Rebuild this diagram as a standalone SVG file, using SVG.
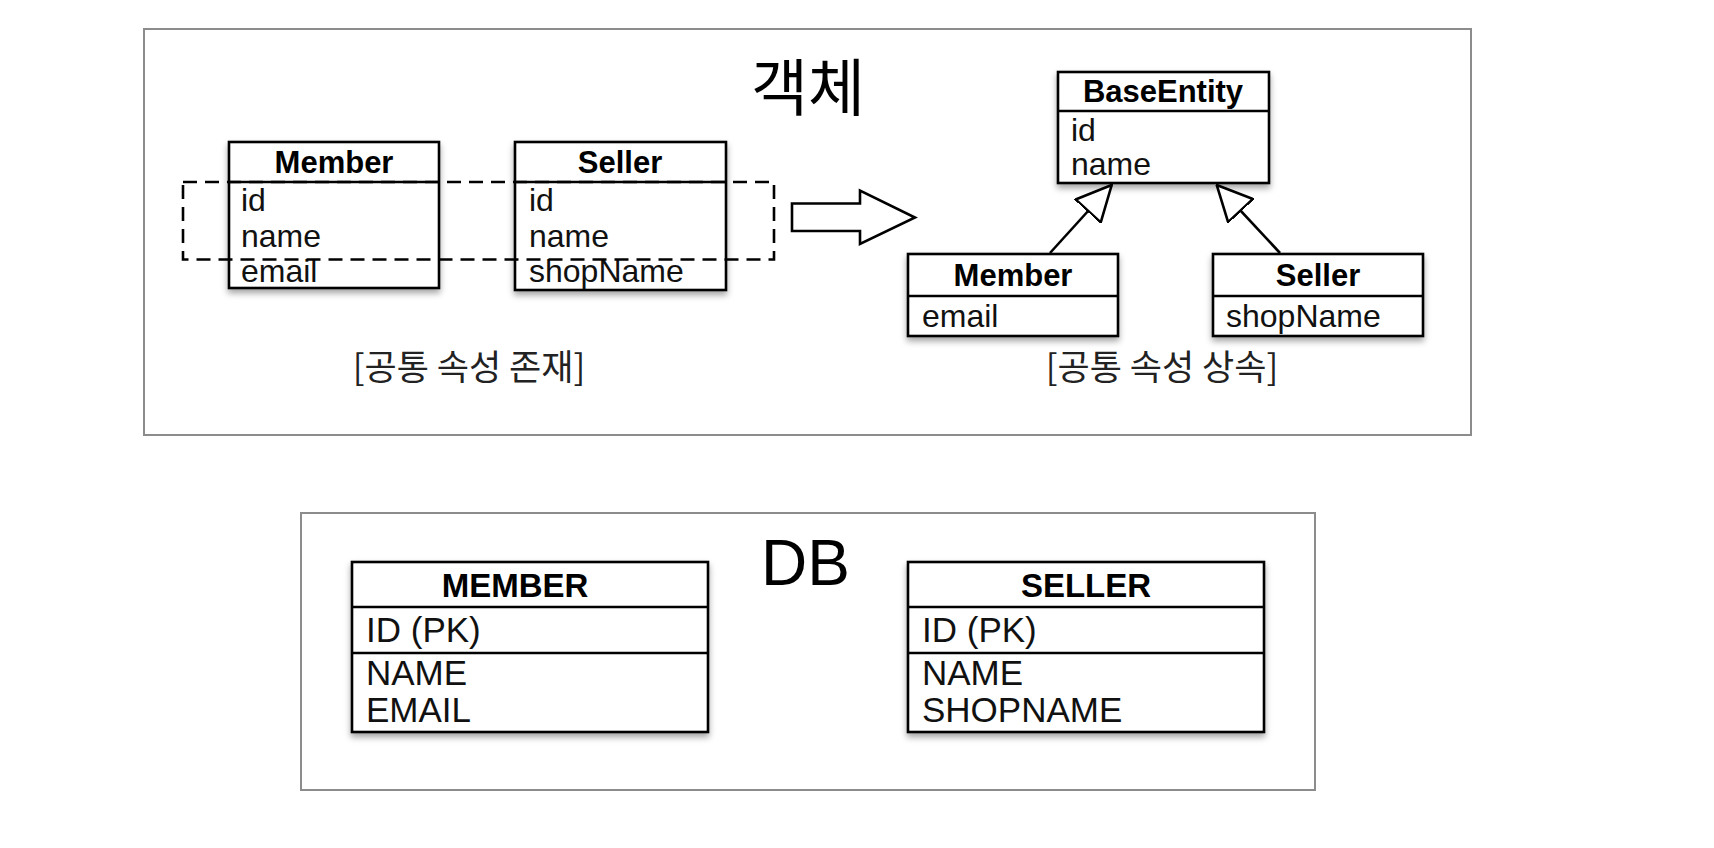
<svg xmlns="http://www.w3.org/2000/svg" width="1714" height="848" viewBox="0 0 1714 848">
<style>
.frame{fill:none;stroke:#8c8c8c;stroke-width:2}
.box{fill:#fff;stroke:#000;stroke-width:2.6;filter:url(#sh)}
.div{stroke:#000;stroke-width:2.6}
.ttl{font-family:"Liberation Sans",Arial,sans-serif;font-weight:bold;font-size:31px;fill:#000;text-anchor:middle}
.att{font-family:"Liberation Sans",Arial,sans-serif;font-size:32px;fill:#111}
.dbt{font-family:"Liberation Sans",Arial,sans-serif;font-weight:bold;font-size:33px;fill:#000;text-anchor:middle}
.dba{font-family:"Liberation Sans",Arial,sans-serif;font-size:35px;fill:#111}
.kr{font-family:"Noto Sans CJK KR","Liberation Sans",sans-serif;fill:#222;text-anchor:middle}
.big{font-family:"Liberation Sans","Noto Sans CJK KR",sans-serif;fill:#000}
.dash{fill:none;stroke:#000;stroke-width:2.6;stroke-dasharray:14 8}
.conn{stroke:#000;stroke-width:2.6;fill:none}
</style>
<defs>
<filter id="sh" x="-10%" y="-10%" width="120%" height="130%">
<feDropShadow dx="0" dy="4" stdDeviation="3" flood-color="#000" flood-opacity="0.35"/>
</filter>
<marker id="inh" markerUnits="userSpaceOnUse" viewBox="0 0 37 36" refX="36" refY="18" markerWidth="37" markerHeight="36" orient="auto">
<path d="M1,1 L36,18 L1,35 Z" fill="#fff" stroke="#000" stroke-width="2.6"/>
</marker>
</defs>
<rect width="1714" height="848" fill="#fff"/>

<g id="frame-object">
<rect class="frame" x="144" y="29" width="1327" height="406"/>
<text class="big" x="808" y="111" font-size="62" text-anchor="middle">객체</text>
</g>

<g id="member-left">
<rect class="box" x="229" y="142" width="210" height="146"/>
<line class="div" x1="229" y1="182" x2="439" y2="182"/>
<text class="ttl" x="334" y="173">Member</text>
<text class="att" x="241" y="211">id</text>
<text class="att" x="241" y="247">name</text>
<text class="att" x="241" y="282">email</text>
</g>

<g id="seller-left">
<rect class="box" x="515" y="142" width="211" height="148"/>
<line class="div" x1="515" y1="182" x2="726" y2="182"/>
<text class="ttl" x="620" y="173">Seller</text>
<text class="att" x="529" y="211">id</text>
<text class="att" x="529" y="247">name</text>
<text class="att" x="529" y="282">shopName</text>
</g>

<g id="common-group">
<rect class="dash" x="183" y="182" width="591" height="77.5"/>
</g>

<g id="label-left">
<text class="kr" x="469" y="380" font-size="35">[공통 속성 존재]</text>
</g>

<g id="base-entity">
<rect class="box" x="1058" y="72" width="211" height="111"/>
<line class="div" x1="1058" y1="111" x2="1269" y2="111"/>
<text class="ttl" x="1163" y="102">BaseEntity</text>
<text class="att" x="1071" y="141">id</text>
<text class="att" x="1071" y="175">name</text>
</g>

<g id="member-right">
<rect class="box" x="908" y="254" width="210" height="82"/>
<line class="div" x1="908" y1="296" x2="1118" y2="296"/>
<text class="ttl" x="1013" y="286">Member</text>
<text class="att" x="922" y="327">email</text>
</g>

<g id="seller-right">
<rect class="box" x="1213" y="254" width="210" height="82"/>
<line class="div" x1="1213" y1="296" x2="1423" y2="296"/>
<text class="ttl" x="1318" y="286">Seller</text>
<text class="att" x="1226" y="327">shopName</text>
</g>

<g id="label-right">
<text class="kr" x="1162" y="380" font-size="35">[공통 속성 상속]</text>
</g>

<g id="connectors">
<polygon class="conn" points="792,203.5 860,203.5 860,190.5 915,217.5 860,244 860,231 792,231" style="fill:#fff"/>
<line class="conn" x1="1050" y1="253" x2="1111.7" y2="185" marker-end="url(#inh)"/>
<line class="conn" x1="1280" y1="253" x2="1216.7" y2="185" marker-end="url(#inh)"/>
</g>

<g id="frame-db">
<rect class="frame" x="301" y="513" width="1014" height="277"/>
<text class="big" x="761" y="585" font-size="64">DB</text>
</g>

<g id="table-member">
<rect class="box" x="352" y="562" width="356" height="170"/>
<line class="div" x1="352" y1="607" x2="708" y2="607"/>
<line class="div" x1="352" y1="653" x2="708" y2="653"/>
<text class="dbt" x="515" y="597">MEMBER</text>
<text class="dba" x="366" y="642">ID (PK)</text>
<text class="dba" x="366" y="685">NAME</text>
<text class="dba" x="366" y="722">EMAIL</text>
</g>

<g id="table-seller">
<rect class="box" x="908" y="562" width="356" height="170"/>
<line class="div" x1="908" y1="607" x2="1264" y2="607"/>
<line class="div" x1="908" y1="653" x2="1264" y2="653"/>
<text class="dbt" x="1086" y="597">SELLER</text>
<text class="dba" x="922" y="642">ID (PK)</text>
<text class="dba" x="922" y="685">NAME</text>
<text class="dba" x="922" y="722">SHOPNAME</text>
</g>
</svg>
